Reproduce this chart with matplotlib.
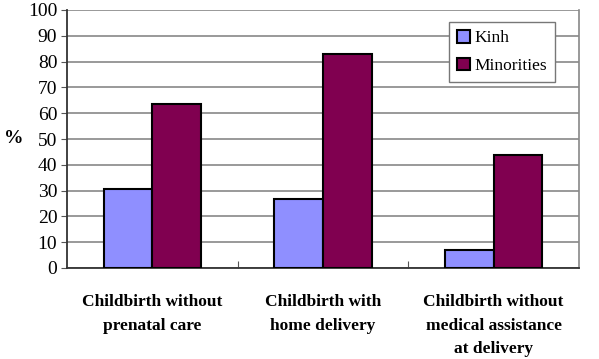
import matplotlib.pyplot as plt
import numpy as np

categories = ['Childbirth without\nprenatal care',
              'Childbirth with\nhome delivery',
              'Childbirth without\nmedical assistance\nat delivery']
kinh = [30.5, 26.7, 7.0]
minorities = [63.7, 82.9, 43.8]

plt.rcParams['font.family'] = ['Liberation Serif', 'DejaVu Serif']

fig = plt.figure(figsize=(5.99, 3.59), dpi=100)
ax = fig.add_axes([67 / 599, 1 - 268 / 359, 512 / 599, 258 / 359])

x = np.arange(len(categories))
w = 0.286
ax.bar(x - w / 2, kinh, w, color='#8f8fff', edgecolor='black', linewidth=1.5,
       label='Kinh', zorder=3)
ax.bar(x + w / 2, minorities, w, color='#800050', edgecolor='black', linewidth=1.5,
       label='Minorities', zorder=3)

ax.set_xlim(-0.5, 2.5)
ax.set_ylim(0, 100)
ax.set_yticks(range(0, 101, 10))
ax.tick_params(axis='y', labelsize=14, length=4, direction='out', color='#555555', pad=3)
ax.grid(axis='y', color='#888888', linewidth=1.2, zorder=0)

# category boundary ticks, pointing inward
ax.set_xticks([0.5, 1.5], minor=False)
ax.set_xticklabels([])
ax.tick_params(axis='x', direction='in', length=5, color='#555555')
ax.set_xticks(x, minor=True)
ax.set_xticklabels(categories, minor=True, fontweight='bold', fontsize=12.5,
                   linespacing=1.6, va='top')
ax.tick_params(axis='x', which='minor', length=0, pad=19)

for s in ['left', 'bottom']:
    ax.spines[s].set_color('#333333')
    ax.spines[s].set_linewidth(1.3)
ax.spines['top'].set_visible(False)
ax.spines['right'].set_color('#888888')
ax.spines['right'].set_linewidth(1.2)

fig.text(14 / 599, 1 - 139 / 359, '%', fontweight='bold', fontsize=14,
         ha='center', va='center')

leg = fig.legend(loc='upper right', bbox_to_anchor=(555 / 599, 1 - 22 / 359),
                 fancybox=False, framealpha=1,
                 edgecolor='#777777', fontsize=12.5, handlelength=0.75, handleheight=0.75,
                 handletextpad=0.25, labelspacing=0.65, borderpad=0.45, borderaxespad=0)
leg.get_frame().set_linewidth(1.0)

fig.savefig('out.png', dpi=100)
